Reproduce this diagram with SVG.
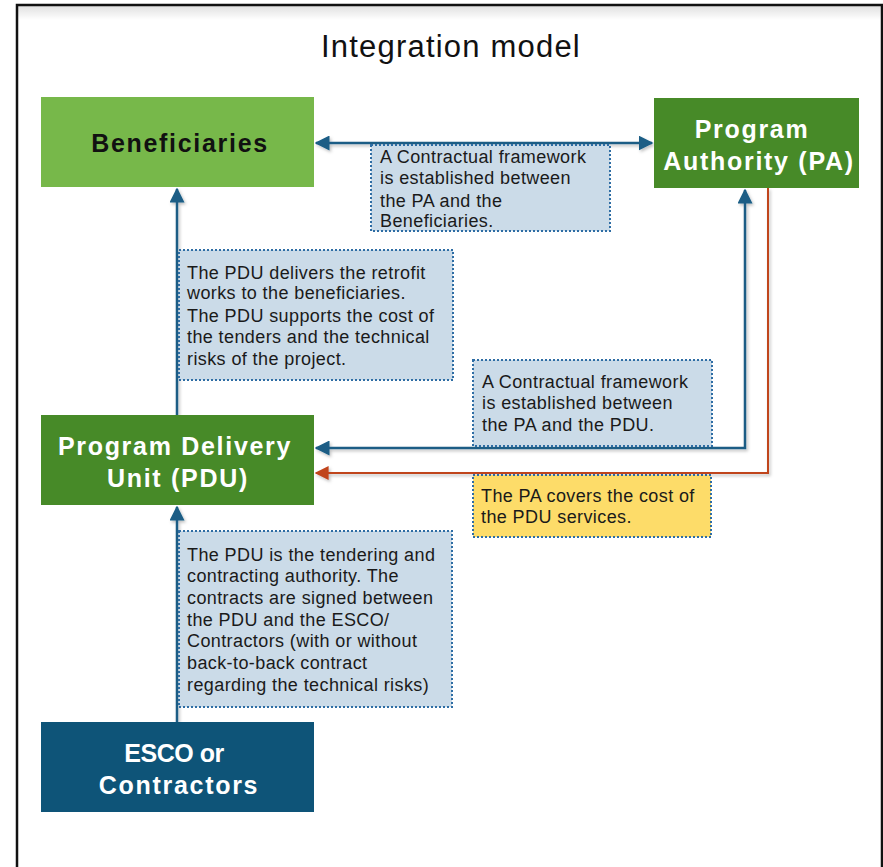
<svg xmlns="http://www.w3.org/2000/svg" width="883" height="867" viewBox="0 0 883 867">
<style>
.node-t{font-family:"Liberation Sans",Arial,sans-serif;font-weight:bold;font-size:25px;fill:#fff;text-anchor:middle;letter-spacing:1.7px}
.note{fill:#cbdbe8;stroke:#2e6da4;stroke-width:2;stroke-dasharray:2 2}
.note-y{fill:#fddc69;stroke:#2e6da4;stroke-width:2;stroke-dasharray:2 2}
.nt{font-family:"Liberation Sans",Arial,sans-serif;font-size:18px;fill:#1a1a1a;letter-spacing:0.4px}
.cb{fill:none;stroke:#1a5d85;stroke-width:2.5}
.cr{fill:none;stroke:#c0451e;stroke-width:2}
</style>
<defs>
<marker id="ab" viewBox="0 0 10 10" refX="9" refY="5" markerWidth="6" markerHeight="6" markerUnits="strokeWidth" orient="auto-start-reverse"><path d="M0,0 L10,5 L0,10 z" fill="#1a5d85"/></marker>
<marker id="ar" viewBox="0 0 10 10" refX="9" refY="5" markerWidth="7" markerHeight="7" markerUnits="strokeWidth" orient="auto"><path d="M0,0 L10,5 L0,10 z" fill="#c0451e"/></marker>
<filter id="sh" x="-10%" y="-10%" width="130%" height="130%"><feDropShadow dx="1.5" dy="2" stdDeviation="1.5" flood-color="#000" flood-opacity="0.25"/></filter>
<linearGradient id="topsh" x1="0" y1="0" x2="0" y2="1"><stop offset="0" stop-color="#000" stop-opacity="0.12"/><stop offset="1" stop-color="#000" stop-opacity="0"/></linearGradient>
</defs>
<rect width="883" height="867" fill="#fff"/>
<g id="frame">
<rect x="18" y="6" width="863" height="14" fill="url(#topsh)"/>
<path d="M17,870 V5 H882 V870" fill="none" stroke="#111" stroke-width="2.5"/>
</g>
<text x="451" y="57" font-family="Liberation Sans,Arial,sans-serif" font-size="31" letter-spacing="1.2" text-anchor="middle" fill="#111">Integration model</text>
<g id="connectors" filter="url(#sh)">
<path class="cb" d="M316,143 H652" marker-start="url(#ab)" marker-end="url(#ab)"/>
<path class="cb" d="M177,415 V189" marker-end="url(#ab)"/>
<path class="cb" d="M177,722 V507" marker-end="url(#ab)"/>
<path class="cb" d="M316,448 H745 V190" marker-start="url(#ab)" marker-end="url(#ab)"/>
<path class="cr" d="M768,188 V473 H316" marker-end="url(#ar)"/>
</g>
<g id="beneficiaries">
<rect x="41" y="97" width="273" height="90" fill="#77b84a"/>
<text class="node-t" x="180" y="152" style="fill:#111">Beneficiaries</text>
</g>
<g id="pa">
<rect x="654" y="98" width="205" height="90" fill="#478a28"/>
<text class="node-t" x="752" y="138">Program</text>
<text class="node-t" x="759" y="170">Authority (PA)</text>
</g>
<g id="pdu">
<rect x="41" y="415" width="273" height="90" fill="#478a28"/>
<text class="node-t" x="175" y="455">Program Delivery</text>
<text class="node-t" x="178" y="487">Unit (PDU)</text>
</g>
<g id="esco">
<rect x="41" y="722" width="273" height="90" fill="#0e5478"/>
<text class="node-t" x="174" y="762" style="letter-spacing:-0.5px">ESCO or</text>
<text class="node-t" x="179" y="794">Contractors</text>
</g>
<g id="note1">
<rect class="note" x="371" y="145" width="239" height="86"/>
<text class="nt"><tspan x="380" y="163">A Contractual framework</tspan><tspan x="380" y="184">is established between</tspan><tspan x="380" y="207">the PA and the</tspan><tspan x="380" y="227">Beneficiaries.</tspan></text>
</g>
<g id="note2">
<rect class="note" x="179" y="250" width="274" height="130"/>
<text class="nt"><tspan x="187" y="279">The PDU delivers the retrofit</tspan><tspan x="187" y="299">works to the beneficiaries.</tspan><tspan x="187" y="322">The PDU supports the cost of</tspan><tspan x="187" y="343">the tenders and the technical</tspan><tspan x="187" y="365">risks of the project.</tspan></text>
</g>
<g id="note3">
<rect class="note" x="473" y="360" width="239" height="86"/>
<text class="nt"><tspan x="482" y="388">A Contractual framework</tspan><tspan x="482" y="409">is established between</tspan><tspan x="482" y="431">the PA and the PDU.</tspan></text>
</g>
<g id="note4">
<rect class="note-y" x="473" y="475" width="238" height="62"/>
<text class="nt"><tspan x="481" y="502">The PA covers the cost of</tspan><tspan x="481" y="523">the PDU services.</tspan></text>
</g>
<g id="note5">
<rect class="note" x="179" y="531" width="273" height="176"/>
<text class="nt"><tspan x="187" y="561">The PDU is the tendering and</tspan><tspan x="187" y="582">contracting authority. The</tspan><tspan x="187" y="604">contracts are signed between</tspan><tspan x="187" y="626">the PDU and the ESCO/</tspan><tspan x="187" y="647">Contractors (with or without</tspan><tspan x="187" y="669">back-to-back contract</tspan><tspan x="187" y="691">regarding the technical risks)</tspan></text>
</g>
</svg>
